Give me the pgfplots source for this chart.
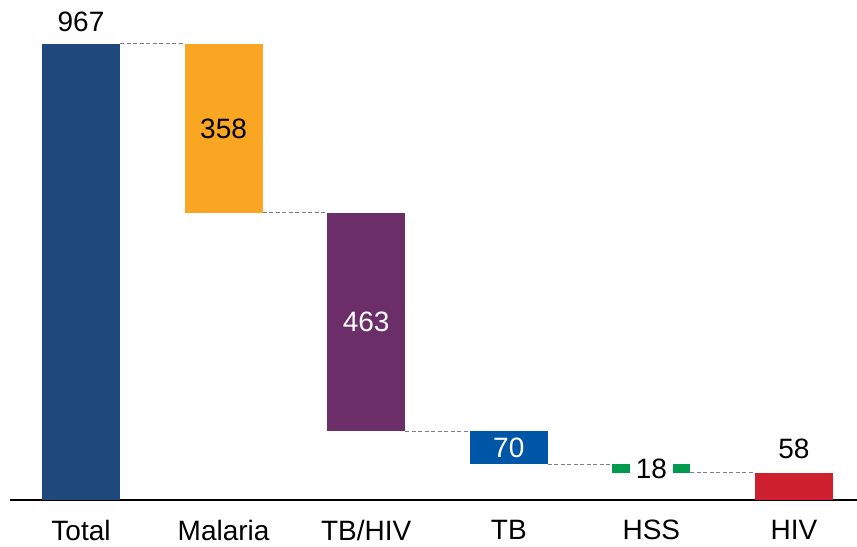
\documentclass[border=0pt]{standalone}
\usepackage{pgfplots}
\pgfplotsset{compat=1.18}
\usepackage{fontspec}
\setmainfont{Liberation Sans}
\definecolor{cTotal}{RGB}{31,73,125}
\definecolor{cMal}{RGB}{250,166,35}
\definecolor{cTBHIV}{RGB}{108,46,105}
\definecolor{cTB}{RGB}{0,86,166}
\definecolor{cHSS}{RGB}{0,154,78}
\definecolor{cHIV}{RGB}{206,32,47}
\definecolor{cDash}{RGB}{128,128,128}
\newcommand{\bigf}{\fontsize{28bp}{34bp}\selectfont}
\begin{document}
\begin{tikzpicture}[font=\bigf]
\begin{axis}[
  at={(10bp,47bp)}, anchor=south west,
  scale only axis, width=847bp, height=500bp,
  xmin=-0.498, xmax=5.442, ymin=0, ymax=1060.3,
  axis x line*=bottom, axis y line=none,
  x axis line style={line width=1.4bp, black, -},
  xtick={0,1,2,3,4,5},
  xticklabels={Total,Malaria,TB/HIV,TB,HSS,HIV},
  major tick length=0pt,
  xticklabel style={font=\bigf, inner sep=0pt, yshift=-20bp},
  ytick=\empty,
  ybar stacked, bar width=0.547,
  clip=false,
]
\addplot[draw=none, fill=none] coordinates {(0,0) (1,609) (2,146) (3,76) (4,58) (5,0)};
\addplot[draw=none, fill=cTotal] coordinates {(0,967) (1,0) (2,0) (3,0) (4,0) (5,0)};
\addplot[draw=none, fill=cMal] coordinates {(0,0) (1,358) (2,0) (3,0) (4,0) (5,0)};
\addplot[draw=none, fill=cTBHIV] coordinates {(0,0) (1,0) (2,463) (3,0) (4,0) (5,0)};
\addplot[draw=none, fill=cTB] coordinates {(0,0) (1,0) (2,0) (3,70) (4,0) (5,0)};
\addplot[draw=none, fill=cHSS] coordinates {(0,0) (1,0) (2,0) (3,0) (4,18) (5,0)};
\addplot[draw=none, fill=cHIV] coordinates {(0,0) (1,0) (2,0) (3,0) (4,0) (5,58)};
\end{axis}
\begin{axis}[
  at={(10bp,47bp)}, anchor=south west,
  scale only axis, width=847bp, height=500bp,
  xmin=-0.498, xmax=5.442, ymin=0, ymax=1060.3,
  hide axis, clip=false,
]
\addplot[cDash, line width=1bp, dash pattern=on 4bp off 2.5bp, no markers] coordinates {(0.2735,967) (0.7265,967)};
\addplot[cDash, line width=1bp, dash pattern=on 4bp off 2.5bp, no markers] coordinates {(1.2735,609) (1.7265,609)};
\addplot[cDash, line width=1bp, dash pattern=on 4bp off 2.5bp, no markers] coordinates {(2.2735,146) (2.7265,146)};
\addplot[cDash, line width=1bp, dash pattern=on 4bp off 2.5bp, no markers] coordinates {(3.2735,76) (3.7265,76)};
\addplot[cDash, line width=1bp, dash pattern=on 4bp off 2.5bp, no markers] coordinates {(4.2735,58) (4.7265,58)};
\node[anchor=south, inner sep=0pt, yshift=12bp] at (axis cs:0,967) {967};
\node[inner sep=0pt] at (axis cs:1,788) {358};
\node[inner sep=0pt, text=white] at (axis cs:2,377.5) {463};
\node[inner sep=0pt, text=white] at (axis cs:3,111) {70};
\node[fill=white, inner xsep=6bp, inner ysep=1bp] at (axis cs:4,67) {18};
\node[anchor=south, inner sep=0pt, yshift=14bp] at (axis cs:5,58) {58};
\end{axis}
\pgfresetboundingbox
\useasboundingbox (0,0) rectangle (857bp,547bp);
\end{tikzpicture}
\end{document}
